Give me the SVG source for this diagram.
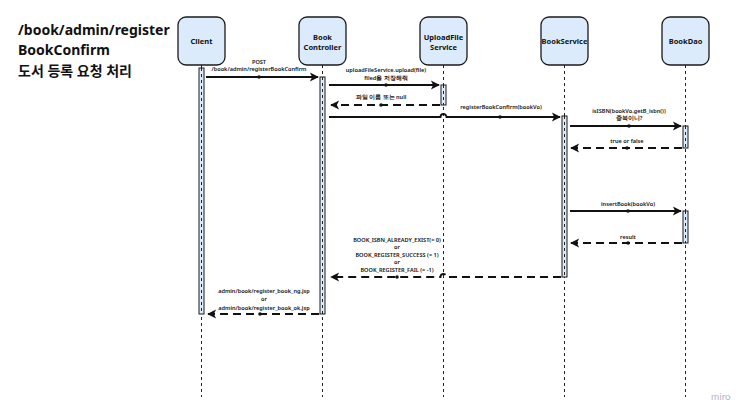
<svg xmlns="http://www.w3.org/2000/svg" width="750" height="418" viewBox="0 0 750 418">
<style>
.box{fill:#dcebfb;stroke:#1b1b1b;stroke-width:1.3}
.nt{font-family:"Noto Sans","Open Sans",sans-serif;font-weight:bold;font-size:7.5px;fill:#111;text-anchor:middle}
.life{stroke:#222;stroke-width:1;stroke-dasharray:3,3;fill:none}
.act{fill:#dcebfb;stroke:#1b1b1b;stroke-width:1}
.msg{stroke:#111;stroke-width:1.8;fill:none}
.ret{stroke:#111;stroke-width:1.8;fill:none;stroke-dasharray:8,5}
.lb{font-family:"Noto Sans","Open Sans",sans-serif;font-weight:600;font-size:5.6px;fill:#111;text-anchor:middle}
.title{font-family:"Noto Sans","Noto Sans CJK KR",sans-serif;font-weight:bold;font-size:14px;fill:#111}
</style>
<defs>
<marker id="ah" viewBox="0 0 10 10" refX="9" refY="5" markerWidth="6" markerHeight="6" markerUnits="userSpaceOnUse" orient="auto" overflow="visible">
<path d="M0,0 L10,5 L0,10 L2.5,5 z" fill="#111" transform="scale(1.5) translate(-3,-1.7)"/>
</marker>
</defs>
<rect width="750" height="418" fill="#fff"/>
<g id="title">
<text class="title" x="18" y="35">/book/admin/register</text>
<text class="title" x="18" y="55">BookConfirm</text>
<text class="title" x="18" y="76">도서 등록 요청 처리</text>
</g>
<g id="lifelines">
<line class="life" x1="201.5" y1="65" x2="201.5" y2="397"/>
<line class="life" x1="322.5" y1="65" x2="322.5" y2="397"/>
<line class="life" x1="443.5" y1="65" x2="443.5" y2="397"/>
<line class="life" x1="564.5" y1="65" x2="564.5" y2="397"/>
<line class="life" x1="685.5" y1="65" x2="685.5" y2="397"/>
</g>
<g id="client"><rect class="box" x="178" y="17" width="47" height="48" rx="8"/><text class="nt" x="201.5" y="44">Client</text></g>
<g id="bookcontroller"><rect class="box" x="299" y="17" width="47" height="48" rx="8"/><text class="nt" x="322.5" y="40">Book</text><text class="nt" x="322.5" y="50">Controller</text></g>
<g id="uploadfileservice"><rect class="box" x="420" y="17" width="47" height="48" rx="8"/><text class="nt" x="443.5" y="40">UploadFile</text><text class="nt" x="443.5" y="50">Service</text></g>
<g id="bookservice"><rect class="box" x="541" y="17" width="47" height="48" rx="8"/><text class="nt" x="564.5" y="44">BookService</text></g>
<g id="bookdao"><rect class="box" x="662" y="17" width="47" height="48" rx="8"/><text class="nt" x="685.5" y="44">BookDao</text></g>
<g id="activations">
<rect class="act" x="199" y="68" width="5" height="246"/><line class="life" x1="201.5" y1="68" x2="201.5" y2="314"/>
<rect class="act" x="320" y="77" width="5" height="237"/><line class="life" x1="322.5" y1="77" x2="322.5" y2="314"/>
<rect class="act" x="441" y="85" width="5" height="20"/><line class="life" x1="443.5" y1="85" x2="443.5" y2="105"/>
<rect class="act" x="562" y="116" width="5" height="161"/><line class="life" x1="564.5" y1="116" x2="564.5" y2="277"/>
<rect class="act" x="683" y="126" width="5" height="22"/><line class="life" x1="685.5" y1="126" x2="685.5" y2="148"/>
<rect class="act" x="683" y="211" width="5" height="32"/><line class="life" x1="685.5" y1="211" x2="685.5" y2="243"/>
</g>
<g id="connectors">
<path class="msg" d="M206,77 H318" marker-end="url(#ah)"/><circle cx="259" cy="77" r="1.8" fill="#111"/>
<path class="msg" d="M329,85 H439" marker-end="url(#ah)"/><circle cx="386" cy="85" r="1.8" fill="#111"/>
<path class="ret" d="M440,105 H331" marker-end="url(#ah)"/><circle cx="381" cy="105" r="1.8" fill="#111"/>
<path class="msg" d="M329,117 H440.5 A3,3 0 0 1 446.5,117 H560" marker-end="url(#ah)"/><circle cx="500" cy="117" r="1.8" fill="#111"/>
<path class="msg" d="M570,126 H681" marker-end="url(#ah)"/><circle cx="629" cy="126" r="1.8" fill="#111"/>
<path class="ret" d="M682,148 H571" marker-end="url(#ah)"/><circle cx="627" cy="148" r="1.8" fill="#111"/>
<path class="msg" d="M570,211 H681" marker-end="url(#ah)"/><circle cx="628" cy="211" r="1.8" fill="#111"/>
<path class="ret" d="M682,243 H571" marker-end="url(#ah)"/><circle cx="628" cy="243" r="1.8" fill="#111"/>
<path class="ret" d="M561,277 H446.5 A3,3 0 0 0 440.5,277 H331" marker-end="url(#ah)"/><circle cx="397" cy="277" r="1.8" fill="#111"/>
<path class="ret" d="M319,314 H208" marker-end="url(#ah)"/><circle cx="260" cy="314" r="1.8" fill="#111"/>
</g>
<g id="labels">
<text class="lb" x="259" y="64">POST</text>
<text class="lb" x="259" y="71">/book/admin/registerBookConfirm</text>
<text class="lb" x="386" y="72">uploadFileService.upload(file)</text>
<text class="lb" x="386" y="80">filed을 저장해줘</text>
<text class="lb" x="381" y="99">파일 이름 또는 null</text>
<text class="lb" x="501" y="109">registerBookConfirm(bookVo)</text>
<text class="lb" x="629" y="113">isISBN(bookVo.getB_isbn())</text>
<text class="lb" x="629" y="120">중복이니?</text>
<text class="lb" x="627" y="143">true or false</text>
<text class="lb" x="628" y="206">insertBook(bookVo)</text>
<text class="lb" x="628" y="239">result</text>
<text class="lb" x="397" y="242">BOOK_ISBN_ALREADY_EXIST(= 0)</text>
<text class="lb" x="397" y="249">or</text>
<text class="lb" x="397" y="257">BOOK_REGISTER_SUCCESS (= 1)</text>
<text class="lb" x="397" y="264">or</text>
<text class="lb" x="397" y="272">BOOK_REGISTER_FAIL (= -1)</text>
<text class="lb" x="264" y="293">admin/book/register_book_ng.jsp</text>
<text class="lb" x="264" y="301">or</text>
<text class="lb" x="264" y="310">admin/book/register_book_ok.jsp</text>
</g>
<text x="711" y="400" font-family="Lato,'Noto Sans',sans-serif" font-size="10" fill="#b8b8c4">miro</text>
</svg>
